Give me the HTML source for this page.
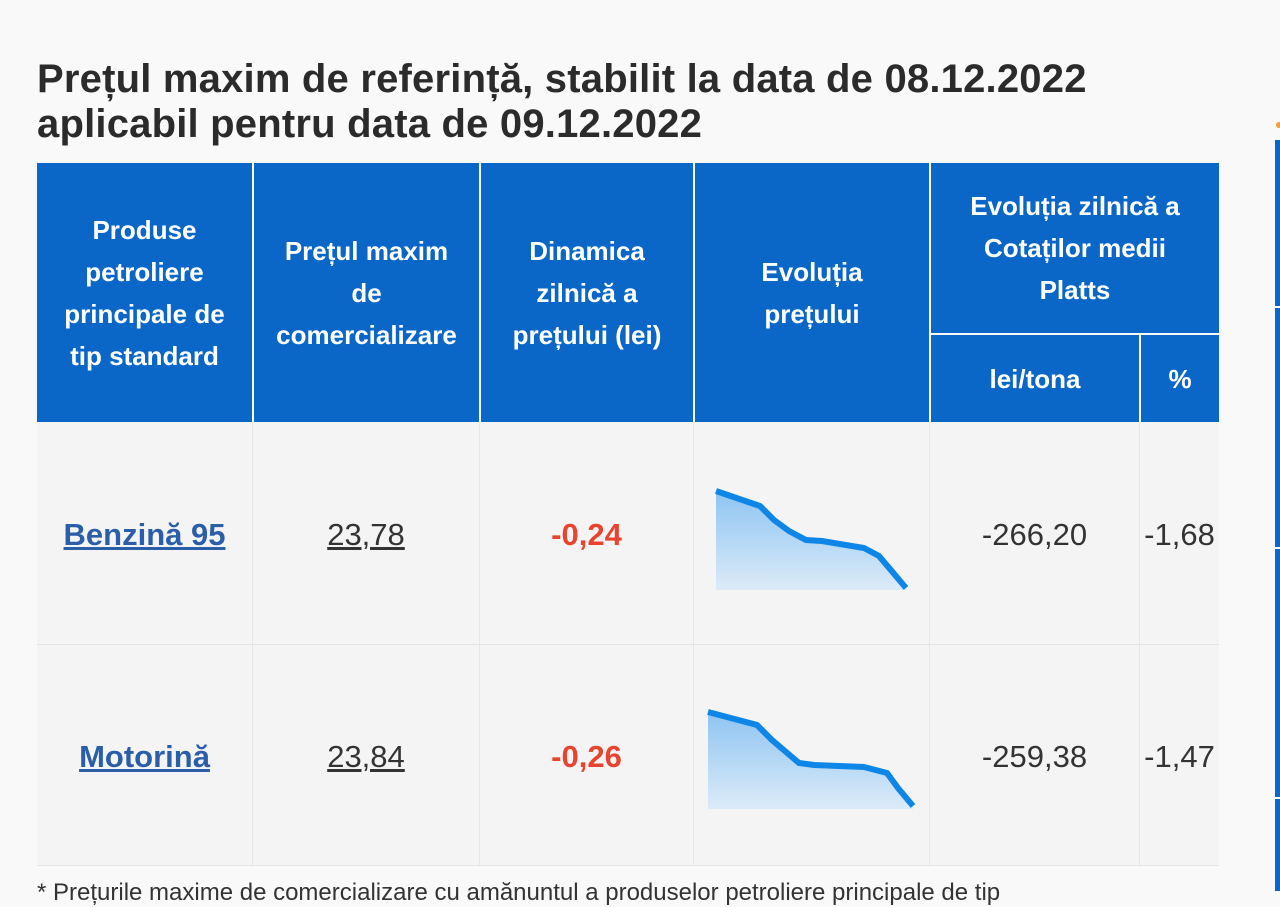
<!DOCTYPE html>
<html><head><meta charset="utf-8"><style>
body{margin:0;width:1280px;height:891px;background:#f9f9f9;overflow:hidden;position:relative;font-family:"Liberation Sans",sans-serif}
h1{position:absolute;left:37px;top:57px;margin:0;font-size:40px;line-height:45px;font-weight:bold;color:#2b2b2b;letter-spacing:0.2px}
.c{position:absolute;box-sizing:border-box;display:flex;align-items:center;justify-content:center;text-align:center}
.h{background:#0a67c8;color:#fff;font-weight:bold;font-size:26px;line-height:42px}
.b{background:#f4f4f4;border-right:1px solid #e6e6e6;border-bottom:1px solid #e6e6e6;font-size:31px;color:#333;padding-top:4px}
a{color:#2a5ea8;font-weight:bold;text-decoration:underline}
.u{text-decoration:underline}
.r{color:#e8432e;font-weight:bold}
</style></head><body>
<h1>Prețul maxim de referință, stabilit la data de 08.12.2022<br>aplicabil pentru data de 09.12.2022</h1>
<div class="c h" style="left:37px;top:163px;width:215px;height:259px">Produse<br>petroliere<br>principale de<br>tip standard</div>
<div class="c h" style="left:254px;top:163px;width:225px;height:259px">Prețul maxim<br>de<br>comercializare</div>
<div class="c h" style="left:481px;top:163px;width:212px;height:259px">Dinamica<br>zilnică a<br>prețului (lei)</div>
<div class="c h" style="left:695px;top:163px;width:234px;height:259px">Evoluția<br>prețului</div>
<div class="c h" style="left:931px;top:163px;width:288px;height:170px">Evoluția zilnică a<br>Cotaților medii<br>Platts</div>
<div class="c h" style="left:931px;top:335px;width:208px;height:87px">lei/tona</div>
<div class="c h" style="left:1141px;top:335px;width:78px;height:87px">%</div>

<div class="c b" style="left:37px;top:422px;width:216px;height:223px"><a>Benzină 95</a></div>
<div class="c b" style="left:253px;top:422px;width:227px;height:223px"><span class="u">23,78</span></div>
<div class="c b" style="left:480px;top:422px;width:214px;height:223px"><span class="r">-0,24</span></div>
<div class="c b" style="left:694px;top:422px;width:236px;height:223px"></div>
<div class="c b" style="left:930px;top:422px;width:210px;height:223px">-266,20</div>
<div class="c b" style="left:1140px;top:422px;width:79px;height:223px;border-right:none">-1,68</div>

<div class="c b" style="left:37px;top:645px;width:216px;height:221px"><a>Motorină</a></div>
<div class="c b" style="left:253px;top:645px;width:227px;height:221px"><span class="u">23,84</span></div>
<div class="c b" style="left:480px;top:645px;width:214px;height:221px"><span class="r">-0,26</span></div>
<div class="c b" style="left:694px;top:645px;width:236px;height:221px"></div>
<div class="c b" style="left:930px;top:645px;width:210px;height:221px">-259,38</div>
<div class="c b" style="left:1140px;top:645px;width:79px;height:221px;border-right:none">-1,47</div>

<svg style="position:absolute;left:0;top:0" width="1280" height="891">
<defs><linearGradient id="g" x1="0" y1="0" x2="0" y2="1"><stop offset="0" stop-color="#8ec4f2"/><stop offset="1" stop-color="#dcebf8"/></linearGradient></defs>
<path d="M716,491 L760,506 L774,520 L789,531 L806,540 L822,541 L864,548 L879,556 L890,569 L906,588 L906,590 L716,590Z" fill="url(#g)"/>
<polyline points="716,491 760,506 774,520 789,531 806,540 822,541 864,548 879,556 890,569 906,588" fill="none" stroke="#0d86e8" stroke-width="6"/>
<path d="M708,712 L757,725 L772,740 L799,763 L814,765 L864,767 L887,773 L898,788 L913,806 L913,809 L708,809Z" fill="url(#g)"/>
<polyline points="708,712 757,725 772,740 799,763 814,765 864,767 887,773 898,788 913,806" fill="none" stroke="#0d86e8" stroke-width="6"/>
<rect x="1275" y="140" width="5" height="751" fill="#0a67c8"/>
<rect x="1275" y="306" width="5" height="2" fill="#fff"/>
<rect x="1275" y="547" width="5" height="2" fill="#fff"/>
<rect x="1275" y="797" width="5" height="2" fill="#fff"/>
<circle cx="1279" cy="125" r="3" fill="#f0a040"/>
</svg>
<div style="position:absolute;left:37px;top:879px;font-size:24px;color:#333;white-space:nowrap">* Prețurile maxime de comercializare cu amănuntul a produselor petroliere principale de tip</div>
</body></html>
